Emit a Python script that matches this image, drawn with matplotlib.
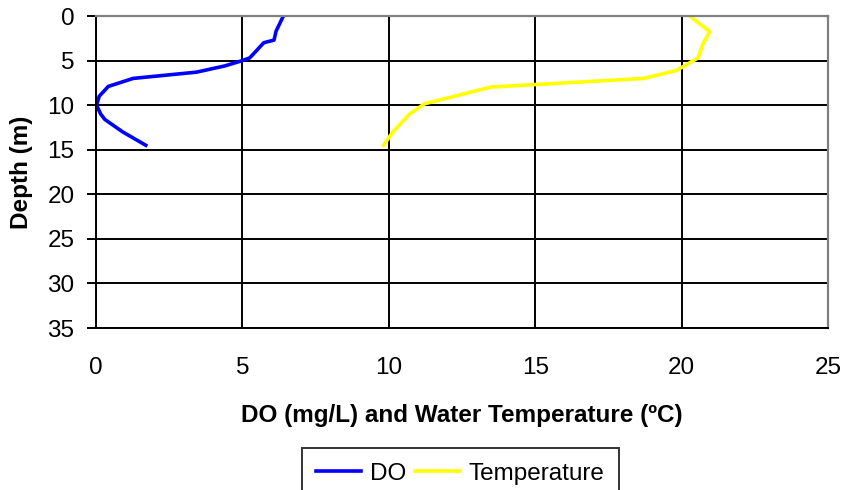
import matplotlib
matplotlib.use("Agg")
import matplotlib.pyplot as plt

plt.rcParams['font.family'] = ['Liberation Sans', 'DejaVu Sans']

# DO profile (mg/L) vs depth (m)
do_depth = [0, 1.7, 2.7, 3.0, 4.7, 5.0, 5.6, 6.3, 7.0, 7.9, 9.0, 10.0, 11.0, 11.6, 13.0, 14.5]
do_vals = [6.4, 6.15, 6.08, 5.73, 5.25, 5.0, 4.4, 3.43, 1.27, 0.42, 0.11, 0.02, 0.16, 0.3, 0.91, 1.7]

# water temperature (C) vs depth (m)
temp_depth = [0, 1.77, 3.1, 4.7, 6.1, 7.0, 7.97, 9.1, 9.85, 11.0, 13.0, 14.5]
temp_vals = [20.28, 20.96, 20.73, 20.56, 19.83, 18.72, 13.49, 12.13, 11.22, 10.71, 10.14, 9.82]

fs = 17.5

fig = plt.figure(figsize=(8.43, 4.9), dpi=100)
ax = fig.add_axes([96/843, 1-328/490, (828-96)/843, (328-16)/490])

ax.plot(do_vals, do_depth, color='#0000FF', lw=2.6, label='DO')
ax.plot(temp_vals, temp_depth, color='#FFFF00', lw=2.6, label='Temperature')

ax.set_xlim(0, 25)
ax.set_ylim(35, 0)
ax.set_xticks(range(0, 26, 5))
ax.set_yticks(range(0, 36, 5))
ax.grid(True, color='black', lw=1.4)
ax.set_axisbelow(True)

for s in ['top', 'right']:
    ax.spines[s].set_color('#808080')
    ax.spines[s].set_linewidth(1.6)
for s in ['left', 'bottom']:
    ax.spines[s].set_color('black')
    ax.spines[s].set_linewidth(1.4)

ax.tick_params(axis='y', direction='out', length=6.5, width=1.4, labelsize=fs, pad=9)
ax.tick_params(axis='x', length=0, labelsize=fs, pad=21)

ax.set_xlabel('DO (mg/L) and Water Temperature (ºC)', fontsize=fs, fontweight='bold', labelpad=18)
ax.set_ylabel('Depth (m)', fontsize=fs, fontweight='bold', labelpad=10)

leg = ax.legend(loc='upper center', bbox_to_anchor=(460.5/843, 1-448/490),
                bbox_transform=fig.transFigure, ncol=2, fontsize=fs,
                frameon=True, fancybox=False, edgecolor='black', handlelength=1.85,
                handletextpad=0.37, columnspacing=0.35, borderpad=0.6, borderaxespad=0)
leg.get_frame().set_linewidth(1.4)

fig.savefig('out.png', dpi=100)
